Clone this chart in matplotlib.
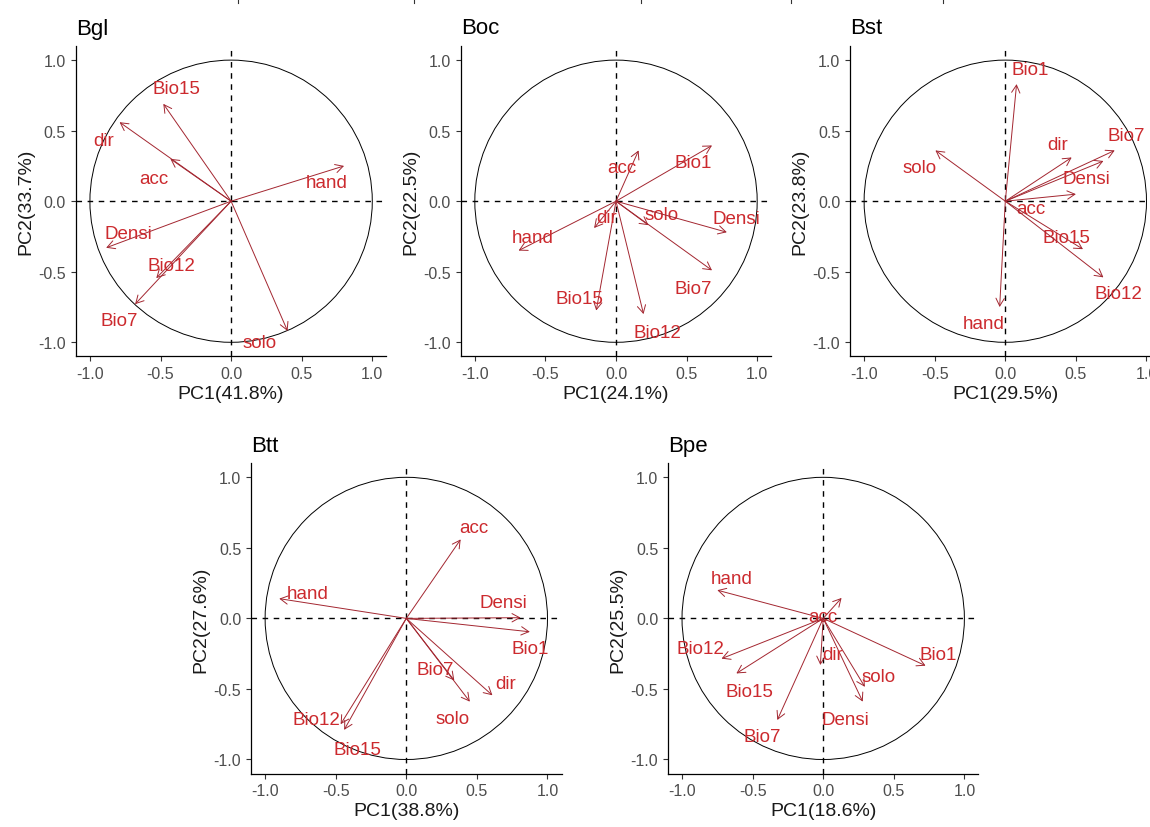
import numpy as np
import matplotlib.pyplot as plt
from matplotlib.patches import Circle
from matplotlib.lines import Line2D

plt.rcParams['font.family'] = ['Liberation Sans', 'DejaVu Sans']
plt.rcParams['axes.unicode_minus'] = False

# variable loadings (PC1, PC2)
bgl_vars = ['Bio15', 'dir', 'acc', 'hand', 'Densi', 'Bio12', 'Bio7', 'solo']
bgl_pc1 = [-0.48, -0.79, -0.43, 0.80, -0.885, -0.53, -0.68, 0.40]
bgl_pc2 = [0.69, 0.56, 0.30, 0.25, -0.33, -0.545, -0.73, -0.92]

boc_vars = ['acc', 'Bio1', 'solo', 'Densi', 'Bio7', 'Bio12', 'Bio15', 'dir', 'hand']
boc_pc1 = [0.16, 0.68, 0.23, 0.785, 0.68, 0.195, -0.14, -0.155, -0.69]
boc_pc2 = [0.36, 0.395, -0.17, -0.22, -0.49, -0.80, -0.775, -0.19, -0.35]

bst_vars = ['Bio1', 'dir', 'Bio7', 'Densi', 'acc', 'Bio15', 'Bio12', 'solo', 'hand']
bst_pc1 = [0.08, 0.47, 0.775, 0.695, 0.50, 0.55, 0.695, -0.495, -0.04]
bst_pc2 = [0.83, 0.31, 0.36, 0.285, 0.05, -0.34, -0.54, 0.36, -0.75]

btt_vars = ['acc', 'hand', 'Densi', 'Bio1', 'Bio7', 'solo', 'dir', 'Bio12', 'Bio15']
btt_pc1 = [0.385, -0.90, 0.81, 0.875, 0.34, 0.45, 0.61, -0.465, -0.44]
btt_pc2 = [0.56, 0.14, 0.005, -0.095, -0.44, -0.59, -0.545, -0.75, -0.79]

bpe_vars = ['hand', 'acc', 'Bio1', 'solo', 'Densi', 'dir', 'Bio12', 'Bio15', 'Bio7']
bpe_pc1 = [-0.75, 0.13, 0.725, 0.295, 0.28, -0.02, -0.72, -0.615, -0.325]
bpe_pc2 = [0.20, 0.145, -0.335, -0.485, -0.59, -0.33, -0.285, -0.39, -0.72]

# explained variance (%)
titles = ['Bgl', 'Boc', 'Bst', 'Btt', 'Bpe']
var_pc1 = [41.8, 24.1, 29.5, 38.8, 18.6]
var_pc2 = [33.7, 22.5, 23.8, 27.6, 25.5]

# repelled label positions (placement only)
bgl_lx = [-0.385, -0.90, -0.55, 0.675, -0.73, -0.42, -0.79, 0.20]
bgl_ly = [0.80, 0.43, 0.16, 0.135, -0.23, -0.455, -0.845, -1.005]
boc_lx = [0.045, 0.55, 0.32, 0.855, 0.55, 0.29, -0.26, -0.065, -0.59]
boc_ly = [0.24, 0.275, -0.095, -0.125, -0.62, -0.93, -0.69, -0.115, -0.255]
bst_lx = [0.175, 0.37, 0.86, 0.575, 0.18, 0.435, 0.80, -0.61, -0.155]
bst_ly = [0.935, 0.405, 0.465, 0.16, -0.055, -0.255, -0.655, 0.24, -0.87]
btt_lx = [0.48, -0.695, 0.69, 0.88, 0.205, 0.33, 0.70, -0.635, -0.345]
btt_ly = [0.645, 0.175, 0.11, -0.215, -0.36, -0.71, -0.46, -0.715, -0.93]
bpe_lx = [-0.65, 0.0, 0.815, 0.395, 0.16, 0.07, -0.87, -0.52, -0.435]
bpe_ly = [0.285, 0.01, -0.255, -0.415, -0.715, -0.255, -0.21, -0.52, -0.84]

txt_col = '#CC2A2E'
arr_col = '#A32630'

fig = plt.figure(figsize=(11.5, 8.28), dpi=100)

# panel boxes [left, bottom, width, height] in figure fraction
W, H = 310.6 / 1150, 310.4 / 828
boxes = [[75.8 / 1150, 1 - 357.4 / 828, W, H],
         [460.7 / 1150, 1 - 357.4 / 828, W, H],
         [850.0 / 1150, 1 - 357.4 / 828, W, H],
         [251.0 / 1150, 1 - 774.6 / 828, W, H],
         [667.9 / 1150, 1 - 774.6 / 828, W, H]]

panels = [(bgl_vars, bgl_pc1, bgl_pc2, bgl_lx, bgl_ly),
          (boc_vars, boc_pc1, boc_pc2, boc_lx, boc_ly),
          (bst_vars, bst_pc1, bst_pc2, bst_lx, bst_ly),
          (btt_vars, btt_pc1, btt_pc2, btt_lx, btt_ly),
          (bpe_vars, bpe_pc1, bpe_pc2, bpe_lx, bpe_ly)]


def draw_panel(ax, names, x, y, lx, ly, title, v1, v2):
    ax.add_patch(Circle((0, 0), 1, fill=False, color='black', lw=0.7))
    ax.axhline(0, color='black', lw=1.0, ls=(0, (4, 4)))
    ax.axvline(0, color='black', lw=1.0, ls=(0, (4, 4)))
    for i in range(len(names)):
        ax.annotate('', xy=(x[i], y[i]), xytext=(0, 0),
                    arrowprops=dict(arrowstyle='->,head_length=0.55,head_width=0.3',
                                    color=arr_col, lw=0.7, shrinkA=0, shrinkB=0))
        ax.text(lx[i], ly[i], names[i], color=txt_col, fontsize=13.5,
                ha='center', va='center')
    ax.set_xlim(-1.1, 1.1)
    ax.set_ylim(-1.1, 1.1)
    ticks = [-1.0, -0.5, 0.0, 0.5, 1.0]
    ax.set_xticks(ticks)
    ax.set_yticks(ticks)
    ax.set_xticklabels(['%.1f' % t for t in ticks])
    ax.set_yticklabels(['%.1f' % t for t in ticks])
    ax.tick_params(direction='out', length=3.5, width=0.8, color='#333333',
                   labelcolor='#4D4D4D', labelsize=11.5)
    for s in ['top', 'right']:
        ax.spines[s].set_visible(False)
    for s in ['left', 'bottom']:
        ax.spines[s].set_linewidth(0.9)
    ax.set_xlabel('PC1(%.1f%%)' % v1, fontsize=14, color='#1A1A1A', labelpad=3)
    ax.set_ylabel('PC2(%.1f%%)' % v2, fontsize=14, color='#1A1A1A', labelpad=3)
    ax.set_title(title, loc='left', fontsize=16, pad=9)


for k in range(5):
    ax = fig.add_axes(boxes[k])
    names, x, y, lx, ly = panels[k]
    draw_panel(ax, names, x, y, lx, ly, titles[k], var_pc1[k], var_pc2[k])

# leftover tick marks of the figure above, cut at the top edge
for px in [237.7, 414.3, 641.0, 790.7, 943.3]:
    fig.add_artist(Line2D([px / 1150, px / 1150], [1.0, 1 - 3.5 / 828],
                          color='#333333', lw=0.8))

plt.savefig('out.png', dpi=100)
